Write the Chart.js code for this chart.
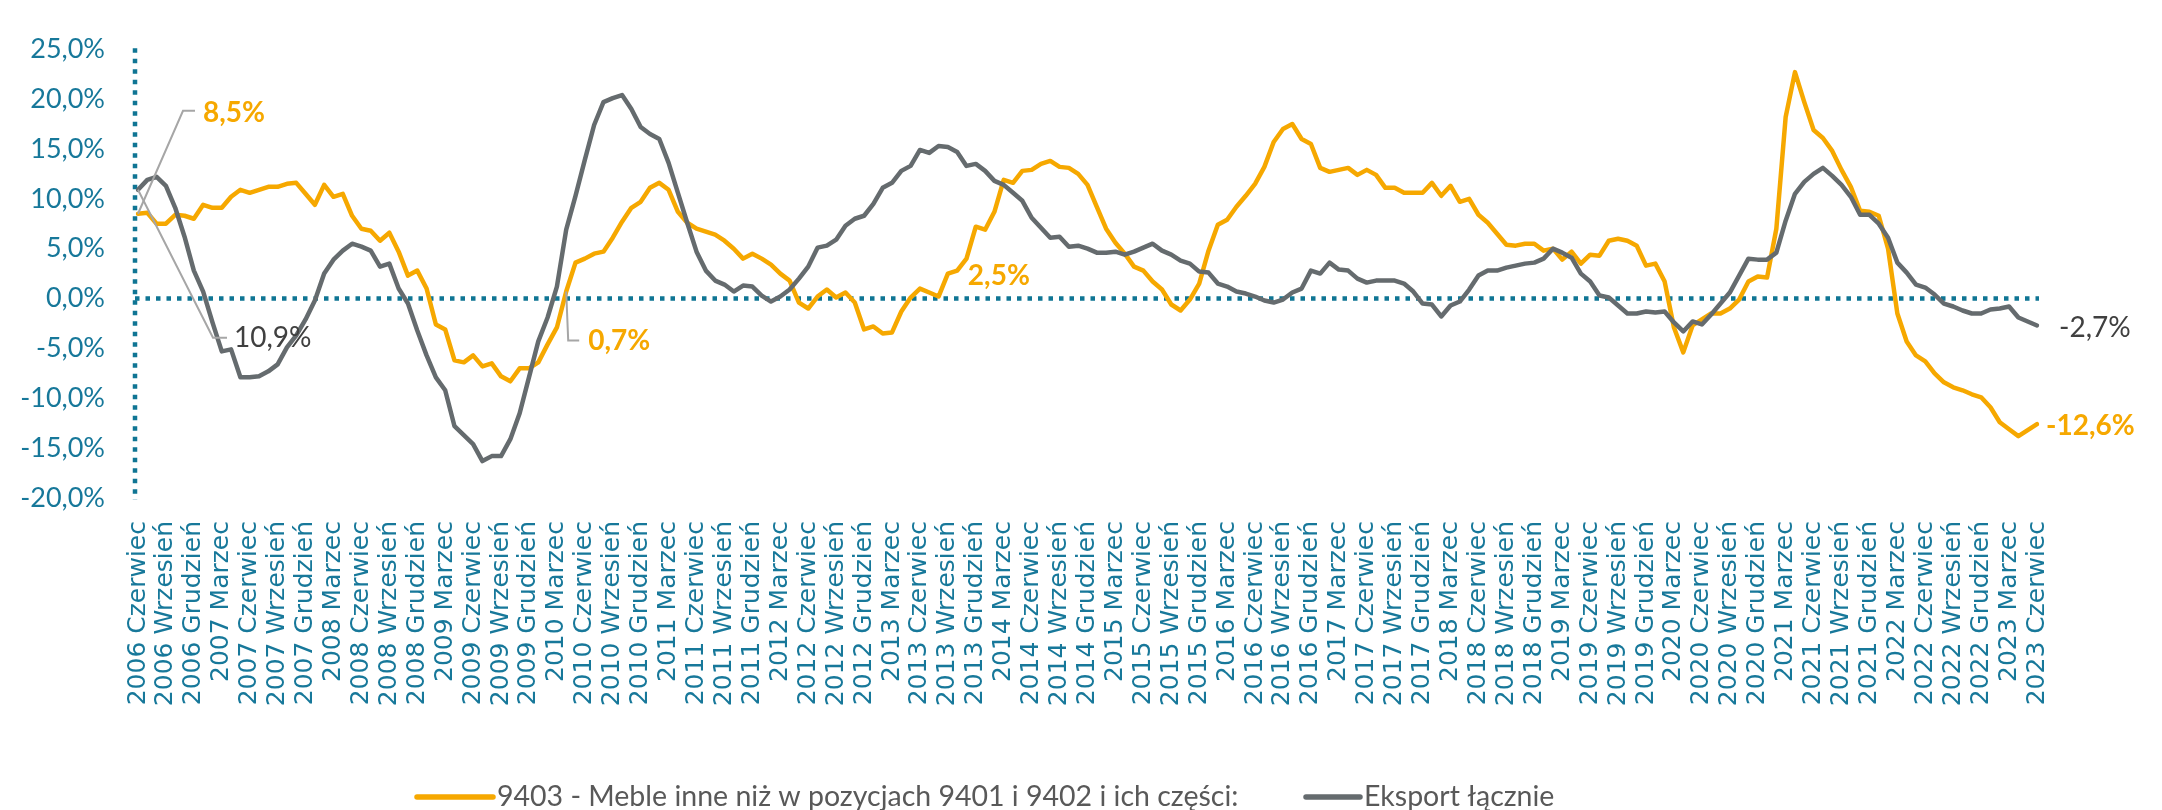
<!DOCTYPE html>
<html>
<head>
<meta charset="utf-8">
<script src="https://cdn.jsdelivr.net/npm/chart.js@4.4.1/dist/chart.umd.min.js"></script>
<style>
  html, body { margin: 0; padding: 0; background: #fff; }
  #wrap { width: 2162px; height: 810px; }
</style>
</head>
<body>
<div id="wrap"><canvas id="chart" width="2162" height="810"></canvas></div>
<script>
// monthly categories, June 2006 .. June 2023
const monthNames = ['Styczeń', 'Luty', 'Marzec', 'Kwiecień', 'Maj', 'Czerwiec',
                    'Lipiec', 'Sierpień', 'Wrzesień', 'Październik', 'Listopad', 'Grudzień'];
const categories = [];
for (let y = 2006; y <= 2023; y++) {
    for (let m = 0; m < 12; m++) {
        if (y === 2006 && m < 5) continue;
        if (y === 2023 && m > 5) break;
        categories.push(y + ' ' + monthNames[m]);
    }
}

const yTicks = [-20, -15, -10, -5, 0, 5, 10, 15, 20, 25];

// 9403 - Meble inne niż w pozycjach 9401 i 9402 i ich części
const meble = [
    8.5, 8.6, 7.5, 7.5, 8.4, 8.3, 8.0, 9.4, 9.1, 9.1,
    10.2, 10.9, 10.6, 10.9, 11.2, 11.2, 11.5, 11.6, 10.5, 9.4,
    11.4, 10.2, 10.5, 8.3, 7.0, 6.8, 5.8, 6.6, 4.7, 2.3,
    2.8, 1.0, -2.6, -3.1, -6.2, -6.4, -5.7, -6.8, -6.5, -7.8,
    -8.3, -7.0, -7.0, -6.4, -4.6, -2.9, 0.7, 3.6, 4.0, 4.5,
    4.7, 6.1, 7.7, 9.1, 9.7, 11.1, 11.6, 10.9, 8.7, 7.6,
    7.0, 6.7, 6.4, 5.8, 5.0, 4.0, 4.5, 4.0, 3.4, 2.5,
    1.8, -0.4, -1.0, 0.2, 0.9, 0.1, 0.6, -0.4, -3.1, -2.8,
    -3.5, -3.4, -1.3, 0.1, 1.0, 0.6, 0.2, 2.5, 2.8, 4.0,
    7.2, 6.9, 8.7, 11.9, 11.6, 12.8, 12.9, 13.5, 13.8, 13.2,
    13.1, 12.5, 11.4, 9.2, 7.0, 5.6, 4.5, 3.2, 2.8, 1.7,
    0.9, -0.6, -1.2, -0.1, 1.5, 4.8, 7.4, 7.9, 9.2, 10.3,
    11.5, 13.2, 15.7, 17.0, 17.5, 16.0, 15.5, 13.1, 12.7, 12.9,
    13.1, 12.4, 12.9, 12.4, 11.1, 11.1, 10.6, 10.6, 10.6, 11.6,
    10.3, 11.3, 9.7, 10.0, 8.4, 7.6, 6.5, 5.4, 5.3, 5.5,
    5.5, 4.8, 5.0, 3.9, 4.7, 3.5, 4.4, 4.3, 5.8, 6.0,
    5.8, 5.3, 3.3, 3.5, 1.7, -2.9, -5.4, -2.7, -2.1, -1.5,
    -1.5, -1.0, -0.1, 1.7, 2.2, 2.1, 7.0, 18.2, 22.7, 19.7,
    16.9, 16.1, 14.8, 12.9, 11.2, 8.8, 8.7, 8.3, 5.0, -1.5,
    -4.3, -5.7, -6.3, -7.5, -8.4, -8.9, -9.2, -9.6, -9.9, -10.9,
    -12.4, -13.1, -13.8, -13.2, -12.6
];

// Eksport łącznie
const eksport = [
    10.9, 11.9, 12.2, 11.3, 9.1, 6.2, 2.8, 0.7, -2.4, -5.3,
    -5.1, -7.9, -7.9, -7.8, -7.3, -6.6, -4.9, -3.7, -2.1, -0.2,
    2.5, 3.9, 4.8, 5.5, 5.2, 4.8, 3.2, 3.5, 1.0, -0.5,
    -3.2, -5.7, -7.9, -9.2, -12.8, -13.7, -14.6, -16.3, -15.8, -15.8,
    -14.1, -11.5, -7.9, -4.3, -1.9, 1.2, 6.9, 10.3, 13.9, 17.4,
    19.7, 20.1, 20.4, 19.0, 17.2, 16.5, 16.0, 13.6, 10.6, 7.6,
    4.7, 2.8, 1.8, 1.4, 0.7, 1.3, 1.2, 0.3, -0.3, 0.2,
    0.9, 2.0, 3.2, 5.1, 5.3, 5.9, 7.3, 8.0, 8.3, 9.5,
    11.1, 11.6, 12.8, 13.3, 14.9, 14.6, 15.3, 15.2, 14.7, 13.3,
    13.5, 12.8, 11.8, 11.4, 10.6, 9.8, 8.1, 7.1, 6.1, 6.2,
    5.2, 5.3, 5.0, 4.6, 4.6, 4.7, 4.4, 4.7, 5.1, 5.5,
    4.8, 4.4, 3.8, 3.5, 2.7, 2.6, 1.5, 1.2, 0.7, 0.5,
    0.2, -0.2, -0.4, -0.1, 0.6, 1.0, 2.8, 2.5, 3.6, 2.9,
    2.8, 2.0, 1.6, 1.8, 1.8, 1.8, 1.5, 0.7, -0.5, -0.6,
    -1.8, -0.7, -0.3, 0.9, 2.3, 2.8, 2.8, 3.1, 3.3, 3.5,
    3.6, 4.0, 5.0, 4.6, 4.1, 2.5, 1.7, 0.3, 0.1, -0.7,
    -1.5, -1.5, -1.3, -1.4, -1.3, -2.4, -3.3, -2.3, -2.6, -1.6,
    -0.5, 0.6, 2.3, 4.0, 3.9, 3.9, 4.6, 7.8, 10.5, 11.7,
    12.5, 13.1, 12.3, 11.4, 10.2, 8.4, 8.4, 7.5, 6.1, 3.6,
    2.6, 1.4, 1.1, 0.4, -0.5, -0.8, -1.2, -1.5, -1.5, -1.1,
    -1.0, -0.8, -1.9, -2.3, -2.7
];

const ORANGE = '#F6A800';
const GRAY = '#656B6E';
const TEAL = '#17789A';
const DARK = '#404040';

const fmt = v => v.toFixed(1).replace('.', ',') + '%';

// value labels with optional leader lines, offsets relative to the data point
const pointLabels = [
    { ds: 0, i: 0, bold: true, dx: 65, dy: -101, leader: [[45, -103], [57, -103]] },
    { ds: 1, i: 0, bold: false, dx: 96, dy: 148, leader: [[75, 148], [89, 148]] },
    { ds: 0, i: 46, bold: true, dx: 22, dy: 49, leader: [[2, 49], [13, 49]] },
    { ds: 0, i: 87, bold: true, dx: 20, dy: 2 },
    { ds: 1, i: 204, bold: false, dx: 22, dy: 3 },
    { ds: 0, i: 204, bold: true, dx: 9, dy: 2 }
];

const decorPlugin = {
    id: 'decor',
    beforeDatasetsDraw(chart) {
        const { ctx, chartArea, scales } = chart;
        const y0 = scales.y.getPixelForValue(0);
        ctx.save();
        ctx.strokeStyle = '#0F7594';
        ctx.lineWidth = 4.5;
        ctx.setLineDash([4.5, 6]);
        ctx.beginPath();
        ctx.moveTo(chartArea.left - 3, y0);
        ctx.lineTo(chartArea.right + 2, y0);
        ctx.stroke();
        ctx.beginPath();
        ctx.moveTo(chartArea.left - 3, chartArea.top - 1);
        ctx.lineTo(chartArea.left - 3, chartArea.bottom + 2);
        ctx.stroke();
        ctx.restore();
    },
    afterDatasetsDraw(chart) {
        const { ctx, scales } = chart;
        ctx.save();
        pointLabels.forEach(l => {
            const ds = chart.data.datasets[l.ds];
            const px = scales.x.getPixelForValue(l.i);
            const py = scales.y.getPixelForValue(ds.data[l.i]);
            if (l.leader) {
                ctx.strokeStyle = '#A6A6A6';
                ctx.lineWidth = 2;
                ctx.beginPath();
                ctx.moveTo(px, py);
                l.leader.forEach(p => ctx.lineTo(px + p[0], py + p[1]));
                ctx.stroke();
            }
            ctx.font = (l.bold ? 'bold ' : '') + '28px Lato';
            ctx.fillStyle = l.ds === 0 ? ORANGE : DARK;
            ctx.textAlign = 'left';
            ctx.textBaseline = 'middle';
            ctx.fillText(fmt(ds.data[l.i]), px + l.dx, py + l.dy);
        });

        // legend
        const items = [
            { ds: 0, x: 415, len: 78 },
            { ds: 1, x: 1304, len: 56 }
        ];
        const ly = 797;
        ctx.font = '28.5px Lato';
        ctx.textBaseline = 'middle';
        items.forEach(it => {
            const ds = chart.data.datasets[it.ds];
            ctx.strokeStyle = ds.borderColor;
            ctx.lineWidth = 5.5;
            ctx.lineCap = 'round';
            ctx.beginPath();
            ctx.moveTo(it.x + 2, ly);
            ctx.lineTo(it.x + it.len, ly);
            ctx.stroke();
            ctx.fillStyle = '#595959';
            ctx.fillText(ds.label, it.x + it.len + 4, ly);
        });
        ctx.restore();
    }
};

new Chart(document.getElementById('chart'), {
    type: 'line',
    data: {
        labels: categories,
        datasets: [
            {
                label: '9403 - Meble inne niż w pozycjach 9401 i 9402 i ich części:',
                data: meble,
                borderColor: ORANGE,
                backgroundColor: ORANGE,
                borderWidth: 4.5,
                pointRadius: 0,
                tension: 0,
                borderJoinStyle: 'round',
                borderCapStyle: 'round',
                order: 1
            },
            {
                label: 'Eksport łącznie',
                data: eksport,
                borderColor: GRAY,
                backgroundColor: GRAY,
                borderWidth: 4.5,
                pointRadius: 0,
                tension: 0,
                borderJoinStyle: 'round',
                borderCapStyle: 'round',
                order: 0
            }
        ]
    },
    options: {
        responsive: false,
        animation: false,
        devicePixelRatio: 1,
        layout: { padding: { top: 21, right: 125, bottom: 0, left: 0 } },
        plugins: {
            legend: { display: false },
            tooltip: { enabled: false }
        },
        scales: {
            x: {
                offset: false,
                grid: { display: false, drawTicks: false },
                border: { display: false },
                ticks: {
                    autoSkip: false,
                    minRotation: 90,
                    maxRotation: 90,
                    padding: 23,
                    color: TEAL,
                    font: { family: 'DejaVu Sans', size: 25 },
                    callback: function(value, index) {
                        return index % 3 === 0 ? this.getLabelForValue(value) : '';
                    }
                },
                afterFit: scale => { scale.height = 312; }
            },
            y: {
                min: -20,
                max: 25,
                afterBuildTicks: scale => { scale.ticks = yTicks.map(v => ({ value: v })); },
                grid: { display: false, drawTicks: false },
                border: { display: false },
                ticks: {
                    padding: 33,
                    color: TEAL,
                    font: { family: 'Lato', size: 27 },
                    callback: v => fmt(v)
                },
                afterFit: scale => { scale.width = 138; }
            }
        }
    },
    plugins: [decorPlugin]
});
</script>
</body>
</html>
